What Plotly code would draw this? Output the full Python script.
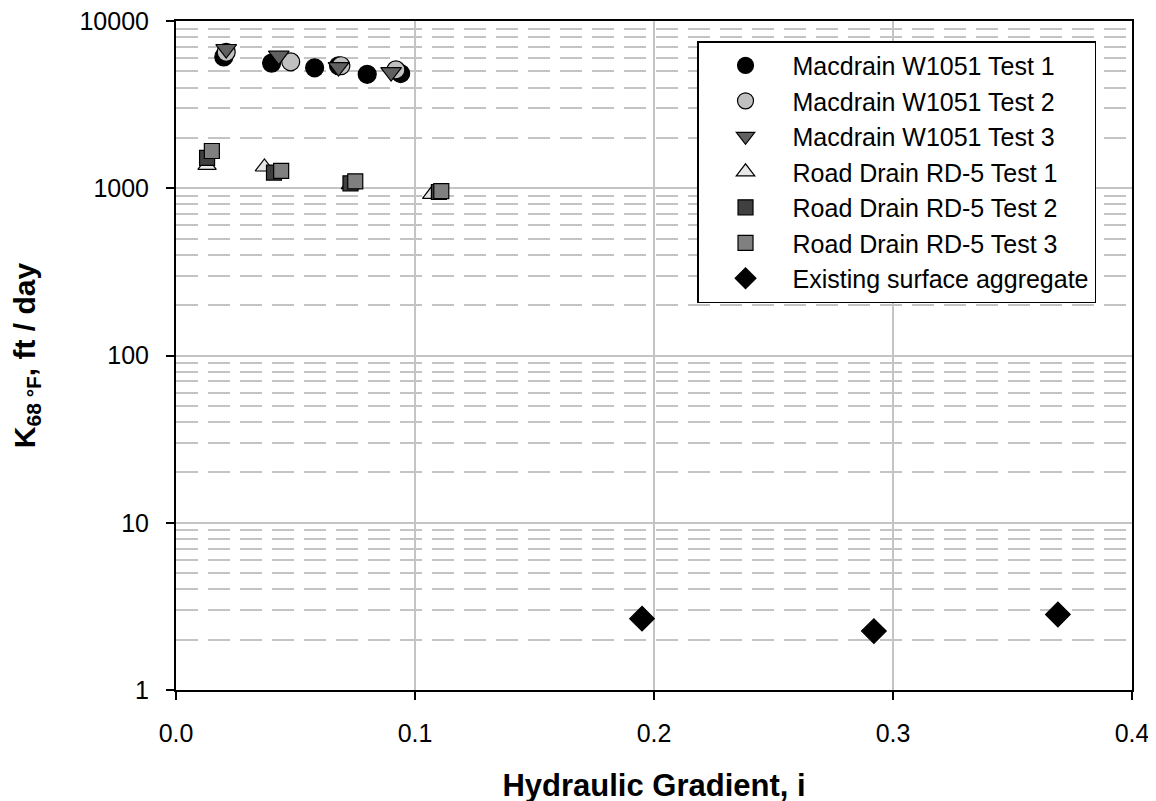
import plotly.graph_objects as go

# Data (hydraulic gradient i, K68F ft/day)
mac1_x = [0.020, 0.040, 0.058, 0.068, 0.080, 0.094]
mac1_y = [6100, 5600, 5250, 5400, 4800, 4850]
mac2_x = [0.021, 0.048, 0.069, 0.092]
mac2_y = [6500, 5700, 5400, 5100]
mac3_x = [0.021, 0.043, 0.068, 0.090]
mac3_y = [6800, 6200, 5300, 4950]
rd1_x = [0.013, 0.037, 0.073, 0.107]
rd1_y = [1370, 1340, 1050, 920]
rd2_x = [0.013, 0.041, 0.073, 0.110]
rd2_y = [1520, 1240, 1070, 950]
rd3_x = [0.015, 0.044, 0.075, 0.111]
rd3_y = [1670, 1270, 1100, 960]
agg_x = [0.195, 0.292, 0.369]
agg_y = [2.67, 2.25, 2.83]

x_ticks = [0.0, 0.1, 0.2, 0.3, 0.4]
x_ticktext = ["0.0", "0.1", "0.2", "0.3", "0.4"]
y_ticks = [1, 10, 100, 1000, 10000]
y_ticktext = ["1", "10", "100", "1000", "10000"]
y_minor = [m * 10 ** d for d in range(4) for m in range(2, 10)]

series = [
    ("Macdrain W1051 Test 1", mac1_x, mac1_y, "circle", "#000000", 18),
    ("Macdrain W1051 Test 2", mac2_x, mac2_y, "circle", "#c0c0c0", 18),
    ("Macdrain W1051 Test 3", mac3_x, mac3_y, "triangle-down", "#606060", 18),
    ("Road Drain RD-5 Test 1", rd1_x, rd1_y, "triangle-up", "#e8e8e8", 16),
    ("Road Drain RD-5 Test 2", rd2_x, rd2_y, "square", "#404040", 15),
    ("Road Drain RD-5 Test 3", rd3_x, rd3_y, "square", "#808080", 15),
    ("Existing surface aggregate", agg_x, agg_y, "diamond", "#000000", 19),
]

fig = go.Figure()
for name, xs, ys, sym, col, sz in series:
    fig.add_trace(go.Scatter(
        x=xs, y=ys, mode="markers", name=name,
        marker=dict(symbol=sym, color=col, size=sz,
                    line=dict(color="#000000", width=1.2)),
    ))

font_family = "Liberation Sans, Arial, sans-serif"
grid_col = "#c4c4c4"

fig.update_layout(
    width=1156, height=801,
    margin=dict(l=168, r=32, t=13, b=119, autoexpand=False),
    paper_bgcolor="white", plot_bgcolor="white",
    font=dict(family=font_family, size=25, color="black"),
    showlegend=True,
    legend=dict(
        x=0.545, y=0.97, xanchor="left", yanchor="top",
        bgcolor="white", bordercolor="black", borderwidth=1.5,
        font=dict(size=25, family=font_family),
        itemsizing="trace", itemwidth=84, tracegroupgap=0,
    ),
    xaxis=dict(
        range=[0, 0.4], tickmode="array", tickvals=x_ticks, ticktext=x_ticktext,
        showline=True, linecolor="black", linewidth=2, mirror=True,
        ticks="outside", ticklen=8, tickcolor="black", tickwidth=1.5,
        ticklabelstandoff=12, ticklabeloverflow="allow", automargin=False,
        showgrid=True, gridcolor=grid_col, gridwidth=1.5,
        zeroline=False,
        title=dict(text="<b>Hydraulic Gradient, i</b>", font=dict(size=31), standoff=28),
        tickfont=dict(size=25),
    ),
    yaxis=dict(
        type="log", range=[0, 4], tickmode="array", tickvals=y_ticks, ticktext=y_ticktext,
        showline=True, linecolor="black", linewidth=2, mirror=True,
        ticks="outside", ticklen=8, tickcolor="black", tickwidth=1.5,
        ticklabelstandoff=12, ticklabeloverflow="allow", automargin=False,
        showgrid=True, gridcolor=grid_col, gridwidth=1.5,
        zeroline=False,
        minor=dict(tickmode="array", tickvals=y_minor, showgrid=True,
                   gridcolor=grid_col, griddash="22px,10px", gridwidth=1.5,
                   ticks=""),
        title=dict(text="<b>K<sub>68 °F</sub>, ft / day</b>", font=dict(size=30), standoff=48),
        tickfont=dict(size=25),
    ),
)

fig.write_html("out.html")
